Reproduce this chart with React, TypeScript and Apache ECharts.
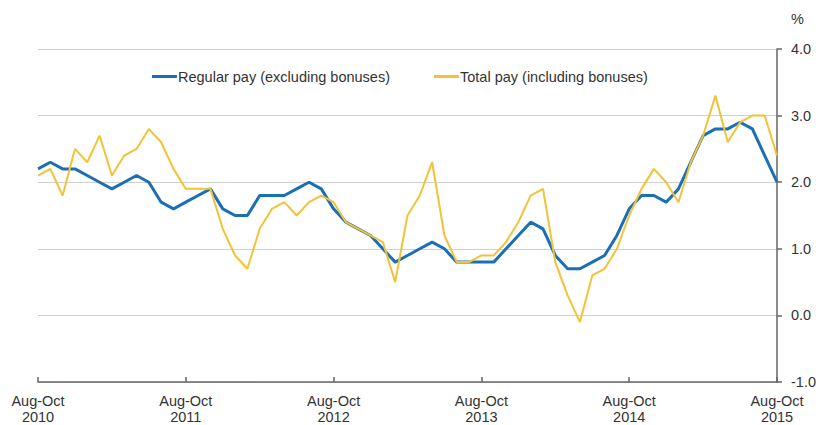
import React, { useEffect, useRef } from "react";
import * as echarts from "echarts";

const monthRanges = [
  "Aug-Oct", "Sep-Nov", "Oct-Dec", "Nov-Jan", "Dec-Feb", "Jan-Mar",
  "Feb-Apr", "Mar-May", "Apr-Jun", "May-Jul", "Jun-Aug", "Jul-Sep",
];
const startYear = 2010;
const pointCount = 61;
const categories: string[] = Array.from({ length: pointCount }, (_, i) => {
  const range = monthRanges[i % 12];
  const yr = startYear + Math.floor(i / 12) + (i % 12 >= 3 ? 1 : 0);
  return range + " " + yr;
});

const regularPay = [
  2.2, 2.3, 2.2, 2.2, 2.1, 2.0, 1.9, 2.0, 2.1, 2.0, 1.7, 1.6,
  1.7, 1.8, 1.9, 1.6, 1.5, 1.5, 1.8, 1.8, 1.8, 1.9, 2.0, 1.9,
  1.6, 1.4, 1.3, 1.2, 1.0, 0.8, 0.9, 1.0, 1.1, 1.0, 0.8, 0.8,
  0.8, 0.8, 1.0, 1.2, 1.4, 1.3, 0.9, 0.7, 0.7, 0.8, 0.9, 1.2,
  1.6, 1.8, 1.8, 1.7, 1.9, 2.3, 2.7, 2.8, 2.8, 2.9, 2.8, 2.4,
  2.0,
];
const totalPay = [
  2.1, 2.2, 1.8, 2.5, 2.3, 2.7, 2.1, 2.4, 2.5, 2.8, 2.6, 2.2,
  1.9, 1.9, 1.9, 1.3, 0.9, 0.7, 1.3, 1.6, 1.7, 1.5, 1.7, 1.8,
  1.7, 1.4, 1.3, 1.2, 1.1, 0.5, 1.5, 1.8, 2.3, 1.2, 0.8, 0.8,
  0.9, 0.9, 1.1, 1.4, 1.8, 1.9, 0.8, 0.3, -0.1, 0.6, 0.7, 1.0,
  1.5, 1.9, 2.2, 2.0, 1.7, 2.3, 2.7, 3.3, 2.6, 2.9, 3.0, 3.0,
  2.4,
];

const seriesNames = ["Regular pay (excluding bonuses)", "Total pay (including bonuses)"];
const yMin = -1;
const yMax = 4;
const yInterval = 1;

export default function App() {
  const ref = useRef<HTMLDivElement>(null);
  useEffect(() => {
    if (!ref.current) return;
    const chart = echarts.init(ref.current, undefined, { renderer: "svg" });
    const font = "Liberation Sans, Arial, sans-serif";
    chart.setOption({
      animation: false,
      backgroundColor: "#ffffff",
      textStyle: { fontFamily: font },
      grid: { left: 38, right: 41, top: 49, bottom: 41, containLabel: false },
      legend: {
        top: 64,
        left: 147,
        icon: "rect",
        itemWidth: 25,
        itemHeight: 3,
        itemGap: 44,
        textStyle: { fontSize: 14.5, color: "#333333", fontFamily: font, padding: [0, 0, 0, -4] },
        data: seriesNames,
      },
      graphic: [
        {
          type: "text",
          left: 791,
          top: 11,
          style: { text: "%", fontSize: 14.5, fill: "#333333", fontFamily: font },
        },
      ],
      xAxis: {
        type: "category",
        data: categories,
        boundaryGap: false,
        axisLine: { onZero: false, lineStyle: { color: "#666666", width: 1.5 } },
        axisTick: { show: true, inside: true, length: 5, interval: 11, lineStyle: { color: "#666666", width: 1.5 } },
        axisLabel: {
          interval: 11,
          margin: 11,
          fontSize: 14.5,
          lineHeight: 16,
          color: "#333333",
          fontFamily: font,
          formatter: (v: string) => v.replace(" ", "\n"),
        },
        splitLine: { show: false },
      },
      yAxis: {
        type: "value",
        position: "right",
        min: yMin,
        max: yMax,
        interval: yInterval,
        axisLine: { show: true, lineStyle: { color: "#666666", width: 1.5 } },
        axisTick: { show: true, length: 5, lineStyle: { color: "#666666", width: 1.5 } },
        axisLabel: {
          margin: 14,
          fontSize: 14.5,
          color: "#333333",
          fontFamily: font,
          formatter: (v: number) => v.toFixed(1),
        },
        splitLine: { show: true, lineStyle: { color: "#d0d0d0", width: 1 } },
      },
      series: [
        {
          name: seriesNames[0],
          type: "line",
          data: regularPay,
          symbol: "none",
          color: "#1b6fb5",
          lineStyle: { width: 3, color: "#1b6fb5" },
          z: 2,
        },
        {
          name: seriesNames[1],
          type: "line",
          data: totalPay,
          symbol: "none",
          color: "#f2c237",
          lineStyle: { width: 2, color: "#f2c237" },
          z: 3,
        },
      ],
    });
    return () => chart.dispose();
  }, []);
  return <div ref={ref} style={{ width: 819, height: 425, position: "absolute", left: 0, top: 0 }} />;
}
